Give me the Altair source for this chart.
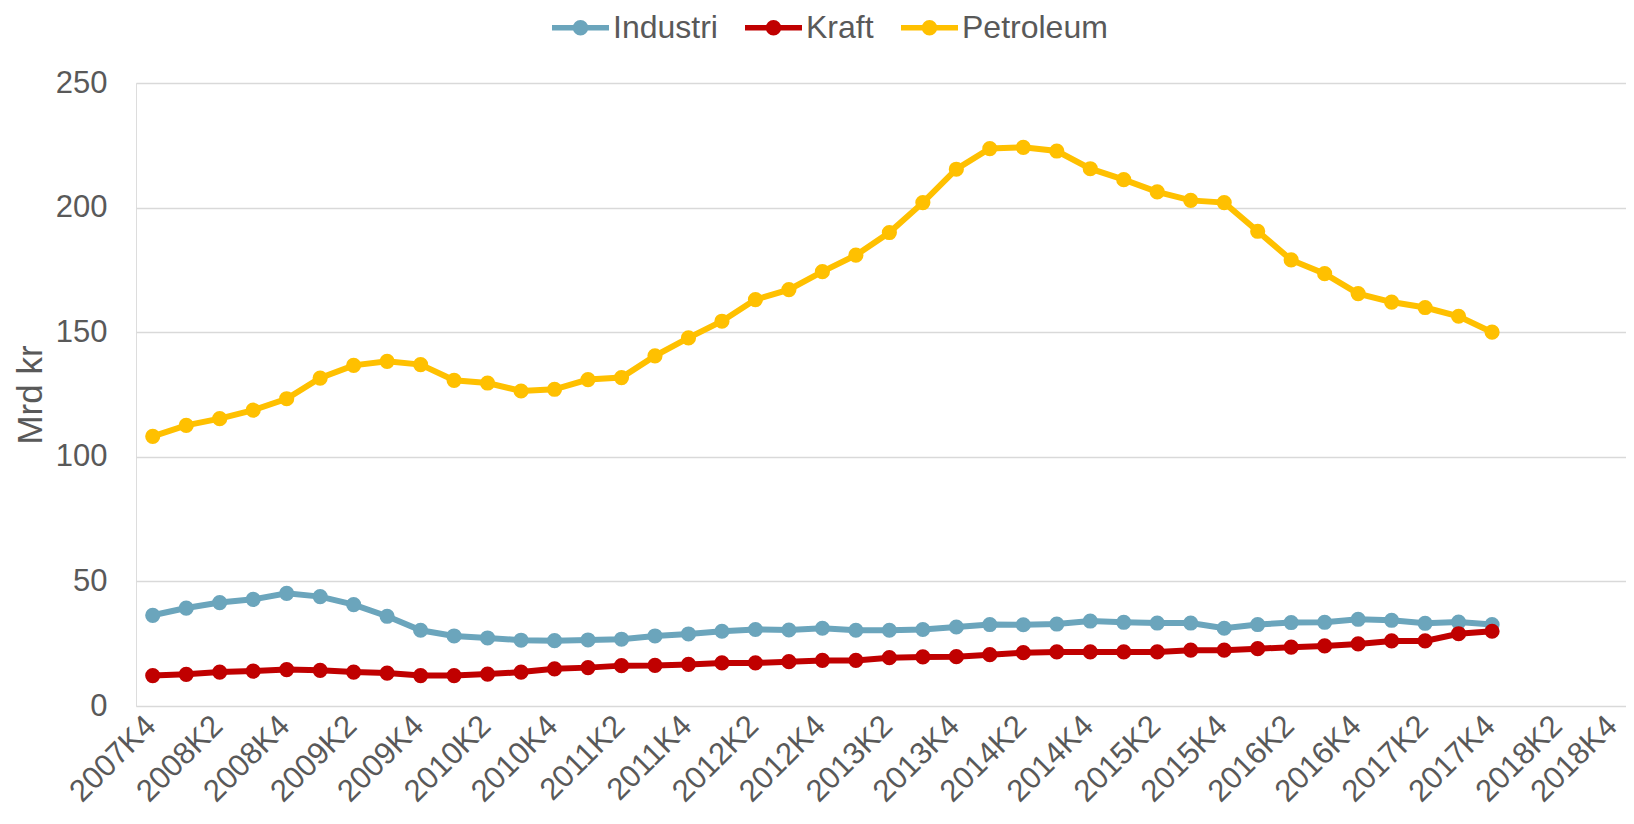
import json
import altair as alt
import pandas as pd

quarters = [
    "2007K4",
    "2008K1", "2008K2", "2008K3", "2008K4",
    "2009K1", "2009K2", "2009K3", "2009K4",
    "2010K1", "2010K2", "2010K3", "2010K4",
    "2011K1", "2011K2", "2011K3", "2011K4",
    "2012K1", "2012K2", "2012K3", "2012K4",
    "2013K1", "2013K2", "2013K3", "2013K4",
    "2014K1", "2014K2", "2014K3", "2014K4",
    "2015K1", "2015K2", "2015K3", "2015K4",
    "2016K1", "2016K2", "2016K3", "2016K4",
    "2017K1", "2017K2", "2017K3", "2017K4",
    "2018K1", "2018K2", "2018K3", "2018K4",
]

series_names = ["Industri", "Kraft", "Petroleum"]
series_colors = ["#6BA5BC", "#C00000", "#FFC000"]

industri = [36.4, 39.3, 41.5, 42.8, 45.2, 43.9, 40.7, 36.0, 30.4, 28.1,
            27.3, 26.4, 26.2, 26.5, 26.8, 28.1, 28.9, 30.0, 30.7, 30.5,
            31.2, 30.4, 30.4, 30.7, 31.7, 32.7, 32.6, 32.9, 34.1, 33.6,
            33.3, 33.3, 31.2, 32.7, 33.5, 33.6, 34.8, 34.4, 33.2, 33.7,
            32.7]
kraft = [12.2, 12.7, 13.6, 14.0, 14.6, 14.3, 13.6, 13.2, 12.2, 12.2,
         12.8, 13.6, 14.9, 15.4, 16.2, 16.3, 16.7, 17.3, 17.3, 17.8,
         18.3, 18.3, 19.4, 19.7, 19.8, 20.6, 21.4, 21.7, 21.7, 21.7,
         21.7, 22.4, 22.4, 23.0, 23.6, 24.1, 24.9, 26.1, 26.1, 29.0,
         30.0]
petroleum = [108.2, 112.6, 115.3, 118.7, 123.3, 131.6, 136.7, 138.3, 137.0, 130.7,
             129.6, 126.4, 127.1, 131.0, 131.8, 140.5, 147.7, 154.4, 163.1, 167.1,
             174.3, 180.9, 190.0, 202.0, 215.4, 223.7, 224.2, 222.7, 215.6, 211.2,
             206.3, 202.9, 202.0, 190.5, 179.0, 173.5, 165.5, 162.1, 159.9, 156.4,
             150.0]

rows = []
for name, vals in zip(series_names, [industri, kraft, petroleum]):
    for i, v in enumerate(vals):
        rows.append({"idx": i, "kvartal": quarters[i], "serie": name, "verdi": v})
df = pd.DataFrame(rows)

FONT = "Liberation Sans"
TXT = "#595959"

x_enc = alt.X(
    "idx:Q",
    scale=alt.Scale(domain=[-0.5, 44], nice=False, zero=False),
    axis=alt.Axis(
        values=list(range(0, 45, 2)),
        labelExpr=json.dumps(quarters) + "[datum.value]",
        title=None,
        grid=False,
        domain=False,
        ticks=False,
        tickSize=0,
        labelAngle=-45,
        labelAlign="right",
        labelBaseline="middle",
        labelPadding=15,
        labelOffset={"condition": {"test": "datum.value >= 44", "value": -14}, "value": -2},
        labelFontSize=31,
        labelFont=FONT,
        labelColor=TXT,
        labelOverlap=False,
        labelFlush=False,
        labelBound=False,
    ),
)
y_enc = alt.Y(
    "verdi:Q",
    scale=alt.Scale(domain=[0, 250], nice=False),
    axis=alt.Axis(
        values=[0, 50, 100, 150, 200, 250],
        title="Mrd kr",
        titleFont=FONT,
        titleFontSize=35,
        titleFontWeight="normal",
        titleColor=TXT,
        titlePadding=7,
        grid=True,
        gridColor="#D9D9D9",
        gridWidth=1.5,
        domain=False,
        ticks=False,
        tickSize=0,
        labelPadding=29,
        labelFontSize=31,
        labelFont=FONT,
        labelColor=TXT,
    ),
)

color_scale = alt.Scale(domain=series_names, range=series_colors)

legend_symbol = (
    "M-1,0L1,0"
    "M-0.175,0A0.175,0.175,0,1,1,0.175,0A0.175,0.175,0,1,1,-0.175,0Z"
    "M-0.05,0A0.05,0.05,0,1,1,0.05,0A0.05,0.05,0,1,1,-0.05,0Z"
)

legend = alt.Legend(
    title=None,
    orient="none",
    direction="horizontal",
    legendX=413,
    legendY=-87,
    symbolType=legend_symbol,
    symbolSize=3249,
    symbolStrokeWidth=5.5,
    labelFont=FONT,
    labelFontSize=32,
    labelColor=TXT,
    labelOffset=1,
    columnPadding=16,
)

base = alt.Chart(df)

lines = base.mark_line(strokeWidth=6).encode(
    x=x_enc,
    y=y_enc,
    color=alt.Color("serie:N", scale=color_scale, legend=legend),
)

points = base.mark_circle(size=230, opacity=1).encode(
    x=x_enc,
    y=y_enc,
    color=alt.Color("serie:N", scale=color_scale, legend=None),
)

chart = alt.layer(lines, points).properties(
    width=1490,
    height=623,
    autosize=alt.AutoSizeParams(type="none"),
    padding={"left": 128, "top": 75, "right": 0, "bottom": 110},
).configure_view(stroke=None).configure(background="white")

chart.save("out.html", embed_options={"renderer": "svg", "actions": False})
